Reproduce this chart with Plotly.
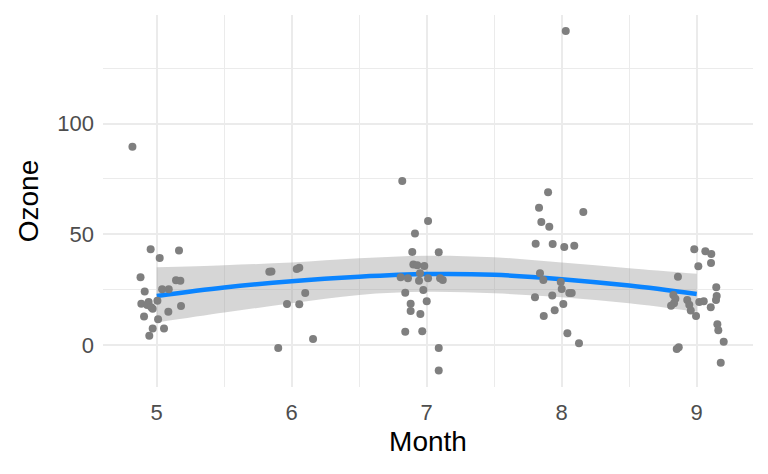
import plotly.graph_objects as go

# jittered points, one list pair per month
may_x = [4.82, 4.955, 5.022, 5.165, 4.88, 4.911, 4.886, 4.94, 4.97, 5.005, 4.906, 5.01, 4.97,
         4.945, 5.054, 5.086, 5.04, 5.089, 5.143, 5.175, 5.18, 4.93, 4.96]
may_y = [89.5, 43.2, 39.3, 42.7, 30.6, 24.1, 18.6, 19.4, 16.3, 19.9, 12.8, 11.6, 7.4,
         4.2, 7.4, 15.0, 25.1, 25.1, 29.2, 29.0, 17.6, 18.0, 17.0]

jun_x = [5.834, 5.85, 6.056, 6.037, 6.10, 5.965, 6.056, 5.90, 6.158]
jun_y = [33.0, 33.2, 34.9, 34.3, 23.5, 18.5, 18.4, -1.4, 2.7]

jul_x = [6.819, 7.01, 6.913, 6.893, 7.089, 6.901, 6.93, 6.982, 6.807, 6.861, 6.943, 7.01, 7.119,
         7.099, 6.95, 6.975, 6.841, 7.0, 6.881, 6.881, 6.953, 6.841, 6.967, 7.089, 7.089]
jul_y = [74.0, 56.0, 50.3, 42.0, 41.8, 36.3, 36.0, 35.7, 30.6, 30.1, 29.0, 30.1, 29.3,
         30.1, 32.4, 24.8, 23.6, 19.7, 18.6, 15.3, 14.0, 5.9, 6.2, -1.4, -11.6]

aug_x = [8.03, 7.899, 7.832, 8.16, 7.849, 7.908, 7.807, 7.933, 8.019, 8.093, 7.839, 7.864, 7.993,
         8.0, 8.056, 8.074, 7.802, 7.93, 8.012, 7.948, 7.867, 8.042, 8.128]
aug_y = [141.8, 68.9, 62.0, 60.0, 55.5, 53.4, 45.7, 45.6, 44.2, 44.8, 32.4, 29.3, 28.4,
         25.3, 23.5, 23.5, 21.5, 22.3, 18.5, 15.7, 13.1, 5.3, 0.8]

sep_x = [8.982, 9.064, 9.108, 9.106, 9.012, 8.861, 9.145, 9.148, 9.143, 8.827, 8.842, 8.832, 8.81,
         8.93, 8.945, 9.019, 9.052, 9.104, 8.956, 8.995, 9.153, 9.16, 9.2, 8.867, 8.852, 9.178]
sep_y = [43.2, 42.3, 41.1, 37.0, 35.5, 30.8, 26.0, 22.1, 20.3, 22.6, 20.9, 18.8, 17.7,
         20.3, 18.2, 19.4, 19.7, 17.0, 15.5, 13.1, 9.3, 6.6, 1.4, -1.0, -1.8, -8.1]

# smoother (quadratic fit) and its 95% band
fit_month = [5, 5.5, 6, 6.5, 7, 7.5, 8, 8.5, 9]
fit_ozone = [22.1, 25.9, 28.8, 30.8, 32.0, 31.7, 29.7, 26.8, 23.0]
fit_upper = [35.1, 36.0, 37.2, 39.1, 40.3, 39.6, 37.2, 34.6, 32.1]
fit_lower = [10.1, 14.6, 18.8, 22.6, 24.0, 23.3, 21.5, 18.8, 15.0]

month = may_x + jun_x + jul_x + aug_x + sep_x
ozone = may_y + jun_y + jul_y + aug_y + sep_y

fig = go.Figure()
fig.add_trace(go.Scatter(x=fit_month, y=fit_lower, mode="lines",
                         line=dict(width=0, shape="spline"), hoverinfo="skip"))
fig.add_trace(go.Scatter(x=fit_month, y=fit_upper, mode="lines", fill="tonexty",
                         fillcolor="rgba(153,153,153,0.4)",
                         line=dict(width=0, shape="spline"), hoverinfo="skip"))
fig.add_trace(go.Scatter(x=fit_month, y=fit_ozone, mode="lines",
                         line=dict(color="#0A84FF", width=4.5, shape="spline")))
fig.add_trace(go.Scatter(x=month, y=ozone, mode="markers",
                         marker=dict(color="#7F7F7F", size=8)))

axis_style = dict(showline=False, zeroline=False, ticks="", automargin=False,
                  gridcolor="#EBEBEB", gridwidth=2,
                  tickfont=dict(family="Liberation Sans", size=22, color="#4D4D4D"),
                  title_font=dict(family="Liberation Sans", size=28, color="black"))

# page body has an 8px margin, so the figure is a bit smaller than the window
fig.update_layout(
    width=760, height=466,
    showlegend=False,
    plot_bgcolor="white", paper_bgcolor="white",
    margin=dict(l=95, r=15, t=7, b=87),
    xaxis=dict(axis_style, title_text="Month", range=[4.602, 9.417], tick0=5, dtick=1,
               minor=dict(showgrid=True, dtick=0.5, gridcolor="#EBEBEB", gridwidth=1),
               ticklabelstandoff=10, title_standoff=7),
    yaxis=dict(axis_style, title_text="Ozone", range=[-19, 149], tick0=0, dtick=50,
               minor=dict(showgrid=True, dtick=25, gridcolor="#EBEBEB", gridwidth=1),
               ticklabelstandoff=8, title_standoff=10),
)

fig.write_html("out.html")
